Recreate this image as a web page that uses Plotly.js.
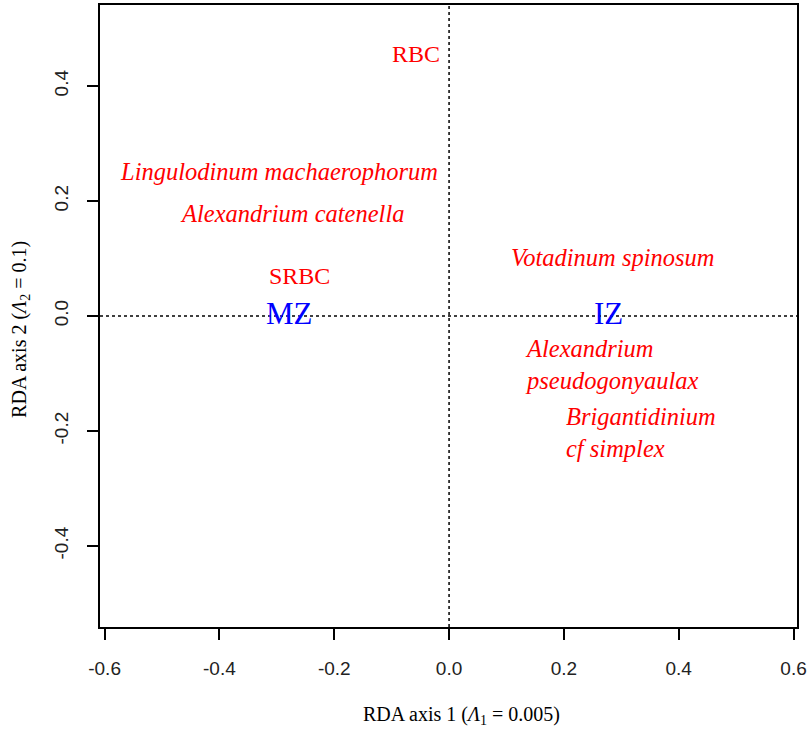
<!DOCTYPE html>
<html>
<head>
<meta charset="utf-8">
<script src="https://cdn.plot.ly/plotly-3.0.1.min.js"></script>
<style>html,body{margin:0;padding:0;background:#fff;}#chart{width:812px;height:731px;}</style>
</head>
<body>
<div id="chart"></div>
<script>
// Species / variable labels (red)
const speciesLabels = ["RBC", "Lingulodinum machaerophorum", "Alexandrium catenella", "SRBC",
  "Votadinum spinosum", "Alexandrium<br>pseudogonyaulax", "Brigantidinium<br>cf simplex"];
const speciesX = [-0.0575, -0.296, -0.274, -0.260, 0.285, 0.283, 0.334];
const speciesY = [0.456, 0.252, 0.179, 0.0696, 0.101, -0.0835, -0.202];
const speciesItalic = [false, true, true, false, true, true, true];

// Site labels (blue)
const siteLabels = ["MZ", "IZ"];
const siteX = [-0.278, 0.278];
const siteY = [0.005, 0.005];

const xTicks = [-0.6, -0.4, -0.2, 0.0, 0.2, 0.4, 0.6];
const yTicks = [-0.4, -0.2, 0.0, 0.2, 0.4];
const xRange = [-0.608, 0.606];
const yRange = [-0.541, 0.541];

const xTitle = 'RDA axis 1 (<i>Λ</i><sub>1</sub> = 0.005)';
const yTitle = 'RDA axis 2 (<i>Λ</i><sub>2</sub> = 0.1)';

const annotations = [];
speciesLabels.forEach((t, i) => {
  annotations.push({
    x: speciesX[i], y: speciesY[i], xref: 'x', yref: 'y', text: t, showarrow: false,
    xanchor: 'center', yanchor: 'middle', align: 'left',
    font: {family: 'Liberation Serif', size: speciesItalic[i] ? 24.5 : 24, color: '#ff0000',
           style: speciesItalic[i] ? 'italic' : 'normal'}
  });
});
siteLabels.forEach((t, i) => {
  annotations.push({
    x: siteX[i], y: siteY[i], xref: 'x', yref: 'y', text: t, showarrow: false,
    xanchor: 'center', yanchor: 'middle',
    font: {family: 'Liberation Serif', size: 31, color: '#0000ff'}
  });
});
// axis titles
annotations.push({
  x: 0.518, y: -0.143, xref: 'paper', yref: 'paper', text: xTitle, showarrow: false,
  xanchor: 'center', yanchor: 'middle',
  font: {family: 'Liberation Serif', size: 20, color: '#000'}
});
annotations.push({
  x: -0.115, y: 0.479, xref: 'paper', yref: 'paper', text: yTitle, showarrow: false,
  xanchor: 'center', yanchor: 'middle', textangle: -90,
  font: {family: 'Liberation Serif', size: 20, color: '#000'}
});

const trace = {x: siteX, y: siteY, mode: 'markers', type: 'scatter',
  marker: {size: 2, color: 'rgba(0,0,0,0)'}, hoverinfo: 'skip', showlegend: false};

const layout = {
  width: 812, height: 731,
  margin: {l: 100, r: 15, t: 5, b: 104},
  paper_bgcolor: '#fff', plot_bgcolor: '#fff',
  showlegend: false,
  xaxis: {
    range: xRange, tickvals: xTicks, ticktext: xTicks.map(v => v.toFixed(1)),
    showgrid: false, zeroline: false, showline: true, mirror: true, linecolor: '#000', linewidth: 2,
    ticks: 'outside', ticklen: 11, tickwidth: 2, tickcolor: '#000',
    ticklabelstandoff: 12,
    tickfont: {family: 'Liberation Sans', size: 19, color: '#222'}
  },
  yaxis: {
    range: yRange, tickvals: yTicks, ticktext: yTicks.map(v => v.toFixed(1)),
    showgrid: false, zeroline: false, showline: true, mirror: true, linecolor: '#000', linewidth: 2,
    ticks: 'outside', ticklen: 11, tickwidth: 2, tickcolor: '#000', tickangle: -90,
    ticklabelstandoff: 11,
    tickfont: {family: 'Liberation Sans', size: 19, color: '#222'}
  },
  shapes: [
    {type: 'line', xref: 'x', yref: 'paper', x0: 0, x1: 0, y0: 0, y1: 1,
     line: {color: '#000', width: 1.5, dash: 'dot'}},
    {type: 'line', xref: 'paper', yref: 'y', x0: 0, x1: 1, y0: 0, y1: 0,
     line: {color: '#000', width: 1.5, dash: 'dot'}}
  ],
  annotations: annotations
};

Plotly.newPlot('chart', [trace], layout, {displayModeBar: false, staticPlot: true});
</script>
</body>
</html>
